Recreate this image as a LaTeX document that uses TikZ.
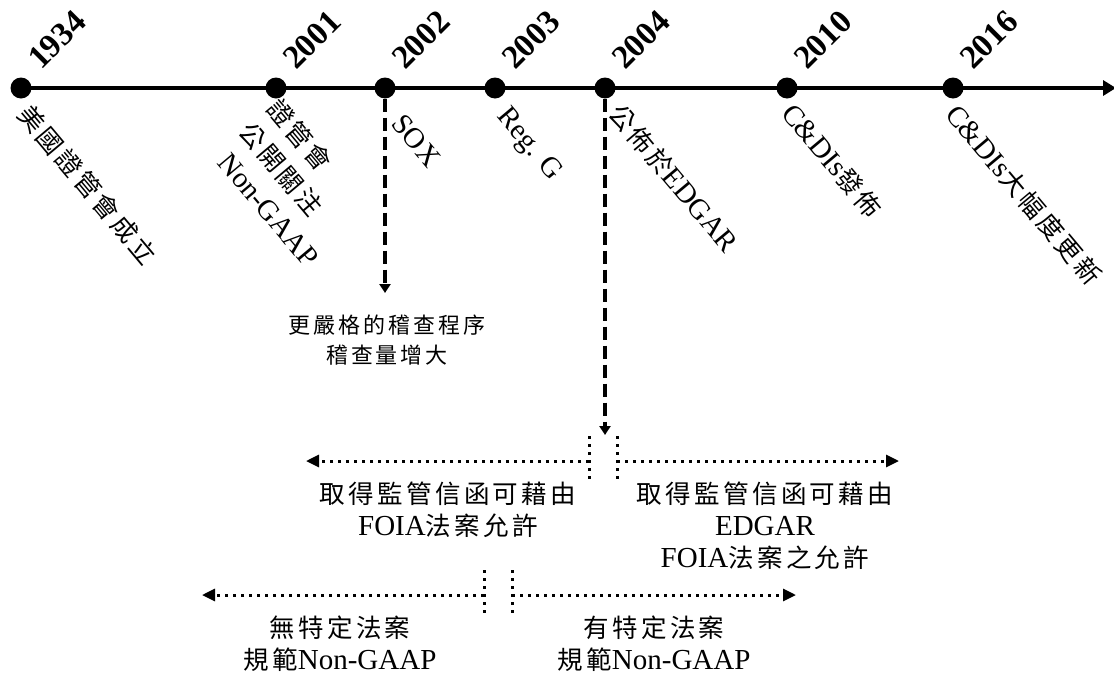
\documentclass[tikz,border=0pt]{standalone}
\usepackage{fontspec}
\setmainfont{Liberation Serif}
\newfontfamily\cjk[Scale=0.88,LetterSpace=13]{Noto Sans CJK TC}
\newcommand\zh[1]{{\cjk #1}}
\usetikzlibrary{arrows.meta}
\begin{document}
\begin{tikzpicture}[x=1pt,y=-1pt,
  dot/.style={circle,fill=black,inner sep=0pt,minimum size=21pt},
  year/.style={font=\fontsize{33}{33}\selectfont\bfseries, rotate=45, anchor=base west, inner sep=0pt},
  lab/.style={font=\fontsize{29}{32}\selectfont, rotate=-50, anchor=north west, inner sep=0pt, align=left},
  txt/.style={font=\fontsize{29}{32}\selectfont, align=center, inner sep=0pt},
  smalltxt/.style={font=\fontsize{25}{30}\selectfont, align=center, inner sep=0pt},
  axisline/.style={line width=4.5pt, -{Triangle[length=13pt,width=15pt]}},
  dsh/.style={line width=3.5pt, dash pattern=on 13pt off 6pt, -{Triangle[length=9pt,width=11pt]}},
  dtt/.style={line width=3pt, dash pattern=on 3pt off 5pt},
  dta/.style={dtt, -{Triangle[length=13pt,width=12pt]}}
]
\useasboundingbox (0,0) rectangle (1114,675);

% timeline dots
\node[dot] (d1934) at (21,88) {};
\node[dot] (d2001) at (276,88) {};
\node[dot] (d2002) at (385,88) {};
\node[dot] (d2003) at (495,88) {};
\node[dot] (d2004) at (605,88) {};
\node[dot] (d2010) at (787,88) {};
\node[dot] (d2016) at (953,88) {};
\coordinate (axend) at (1116,88);
\draw[axisline] (d1934.center) -- (axend);

% years
\node[year] (y1934) at (41,71) {1934};
\node[year] (y2001) at (296,71) {2001};
\node[year] (y2002) at (405,71) {2002};
\node[year] (y2003) at (515,71) {2003};
\node[year] (y2004) at (625,71) {2004};
\node[year] (y2010) at (807,71) {2010};
\node[year] (y2016) at (973,71) {2016};

% event labels
\node[lab] (l1934) at (33,101) {\zh{美國證管會成立}};
\node[lab, font=\fontsize{29}{36}\selectfont] (l2001) at (282,95) {\zh{證管會}\\\zh{公開關注}\\\hspace*{10pt}Non-GAAP};
\node[lab] (l2002) at (405,112) {SOX};
\node[lab] (l2003) at (511,104) {Reg. G};
\node[lab] (l2004) at (624,100) {\zh{公佈於}EDGAR};
\node[lab] (l2010) at (797,100) {C\&DIs\zh{發佈}};
\node[lab] (l2016) at (961,101) {C\&DIs\zh{大幅度更新}};

% dashed arrows
\coordinate (t2002) at (385,293);
\draw[dsh] (d2002.south) -- (t2002);
\coordinate (t2004) at (605,435);
\draw[dsh] (d2004.south) -- (t2004);

\node[smalltxt] (a2002) at (387,340) {\zh{更嚴格的稽查程序}\\\zh{稽查量增大}};

% upper split
\coordinate (pa1) at (589,436); \coordinate (pa2) at (589,483);
\coordinate (pb1) at (617,436); \coordinate (pb2) at (617,483);
\draw[dtt] (pa1) -- (pa2);
\draw[dtt] (pb1) -- (pb2);
\coordinate (ua) at (589,461); \coordinate (ual) at (306,461);
\coordinate (ub) at (617,461); \coordinate (ubr) at (899,461);
\draw[dta] (ua) -- (ual);
\draw[dta] (ub) -- (ubr);

\node[txt] (u1) at (448,510) {\zh{取得監管信函可藉由}\\FOIA\zh{法案允許}};
\node[txt] (u2) at (765,526) {\zh{取得監管信函可藉由}\\EDGAR\\FOIA\zh{法案之允許}};

% lower split
\coordinate (qa1) at (484,570); \coordinate (qa2) at (484,617);
\coordinate (qb1) at (512,570); \coordinate (qb2) at (512,617);
\draw[dtt] (qa1) -- (qa2);
\draw[dtt] (qb1) -- (qb2);
\coordinate (va) at (484,595); \coordinate (val) at (202,595);
\coordinate (vb) at (512,595); \coordinate (vbr) at (796,595);
\draw[dta] (va) -- (val);
\draw[dta] (vb) -- (vbr);

\node[txt] (w1) at (340,644) {\zh{無特定法案}\\\zh{規範}Non-GAAP};
\node[txt] (w2) at (654,644) {\zh{有特定法案}\\\zh{規範}Non-GAAP};
\end{tikzpicture}
\end{document}
